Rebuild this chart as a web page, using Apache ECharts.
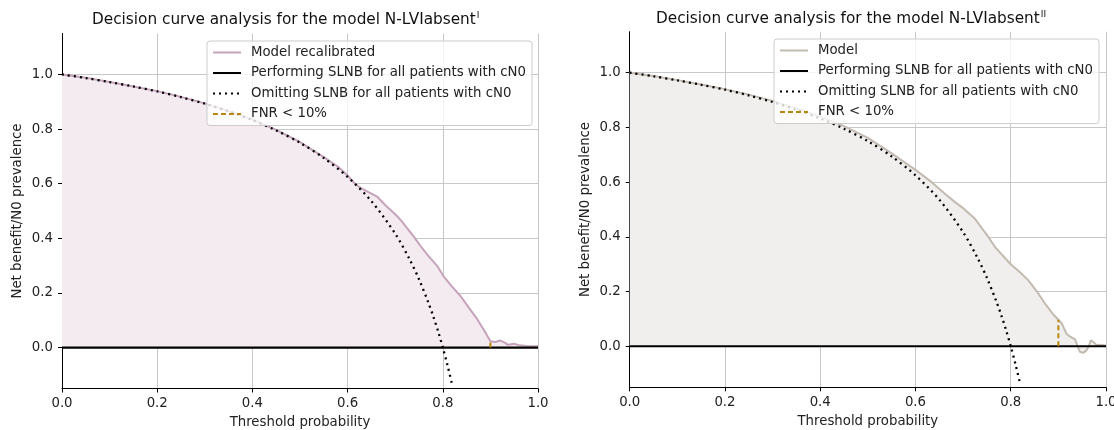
<!DOCTYPE html>
<html>
<head>
<meta charset="utf-8">
<script src="https://cdn.jsdelivr.net/npm/echarts@6/dist/echarts.min.js"></script>
<style>
  html, body { margin: 0; padding: 0; background: #fff; }
  #chart { width: 1114px; height: 430px; }
</style>
</head>
<body>
<div id="chart"></div>
<script>
// tick labels
var xTicks = [0, 0.2, 0.4, 0.6, 0.8, 1.0];
var yTicks = [0, 0.2, 0.4, 0.6, 0.8, 1.0];

// legend names
var legendLeft = ['Model recalibrated', 'Performing SLNB for all patients with cN0', 'Omitting SLNB for all patients with cN0', 'FNR < 10%'];
var legendRight = ['Model', 'Performing SLNB for all patients with cN0', 'Omitting SLNB for all patients with cN0', 'FNR < 10%'];

// omitting SLNB (dotted), same in both panels
var omitX = [0, 0.05, 0.1, 0.15, 0.2, 0.25, 0.3, 0.35, 0.4, 0.45, 0.5, 0.55, 0.6, 0.65, 0.7, 0.73, 0.75, 0.77, 0.78, 0.79, 0.8, 0.81, 0.82];
var omitY = [1.0, 0.987, 0.972, 0.956, 0.938, 0.917, 0.893, 0.865, 0.833, 0.795, 0.75, 0.694, 0.625, 0.536, 0.417, 0.324, 0.25, 0.163, 0.114, 0.06, 0.0, -0.066, -0.139];

// performing SLNB (black horizontal)
var allX = [0, 1];
var allY = [0, 0];

// left panel: model recalibrated
var leftX = [0, 0.05, 0.1, 0.15, 0.2, 0.25, 0.3, 0.35, 0.4, 0.45, 0.5, 0.55, 0.58, 0.6, 0.615, 0.627, 0.645, 0.662, 0.68, 0.7, 0.711, 0.739, 0.754, 0.77, 0.789, 0.802, 0.82, 0.838, 0.855, 0.873, 0.888, 0.9, 0.91, 0.92, 0.93, 0.937, 0.95, 0.96, 0.975, 1.0];
var leftY = [1.0, 0.988, 0.972, 0.956, 0.939, 0.918, 0.894, 0.866, 0.835, 0.797, 0.752, 0.697, 0.662, 0.63, 0.6, 0.585, 0.568, 0.553, 0.52, 0.488, 0.468, 0.406, 0.37, 0.335, 0.297, 0.26, 0.222, 0.187, 0.145, 0.102, 0.06, 0.023, 0.02, 0.026, 0.018, 0.01, 0.014, 0.008, 0.006, 0.005];

// right panel: model
var rightX = [0, 0.05, 0.1, 0.15, 0.2, 0.25, 0.3, 0.35, 0.4, 0.45, 0.5, 0.55, 0.6, 0.634, 0.66, 0.683, 0.7, 0.725, 0.74, 0.753, 0.767, 0.78, 0.8, 0.82, 0.837, 0.855, 0.872, 0.89, 0.9, 0.907, 0.917, 0.925, 0.935, 0.945, 0.952, 0.959, 0.964, 0.968, 0.974, 0.98, 0.985, 1.0];
var rightY = [1.0, 0.988, 0.973, 0.957, 0.94, 0.92, 0.897, 0.87, 0.84, 0.805, 0.762, 0.705, 0.645, 0.6, 0.56, 0.527, 0.505, 0.466, 0.43, 0.4, 0.363, 0.338, 0.3, 0.27, 0.241, 0.2, 0.156, 0.115, 0.097, 0.084, 0.046, 0.035, 0.025, -0.02, -0.024, -0.015, 0.0, 0.022, 0.015, 0.004, 0.006, 0.003];

// FNR < 10% cut-off
var fnrCut = 0.9;
var leftFnrTop = 0.023;
var rightFnrTop = 0.097;

function pairs(xs, ys) {
  return xs.map(function (x, i) { return [x, ys[i]]; });
}
function tail(xs, ys, from) {
  return pairs(xs, ys).filter(function (p) { return p[0] >= from; });
}

var font = 'DejaVu Sans';
var txt = '#222';

function xAxisFor(i) {
  return {
    type: 'value', gridIndex: i, min: 0, max: 1, interval: 0.2,
    name: 'Threshold probability', nameLocation: 'middle', nameGap: 28,
    nameTextStyle: { fontFamily: font, fontSize: 13.3, color: txt },
    axisLine: { onZero: false, lineStyle: { color: '#000', width: 1 } },
    axisTick: { length: 4, lineStyle: { color: '#000' } },
    axisLabel: { fontFamily: font, fontSize: 13.3, color: txt, margin: 9,
      formatter: function (v) { return v.toFixed(1); } },
    splitLine: { show: true, lineStyle: { color: '#c8c8c8', width: 1 } }
  };
}
function yAxisFor(i) {
  return {
    type: 'value', gridIndex: i, min: -0.15, max: 1.15, minInterval: 0.2, maxInterval: 0.2,
    name: 'Net benefit/N0 prevalence', nameLocation: 'middle', nameGap: 38,
    nameTextStyle: { fontFamily: font, fontSize: 13.3, color: txt },
    axisLine: { show: true, onZero: false, lineStyle: { color: '#000', width: 1 } },
    axisTick: { show: true, length: 4, customValues: yTicks, lineStyle: { color: '#000' } },
    axisLabel: { fontFamily: font, fontSize: 13.3, color: txt, margin: 9, customValues: yTicks,
      formatter: function (v) { return v.toFixed(1); } },
    splitLine: { show: true, lineStyle: { color: '#c8c8c8', width: 1 } }
  };
}

function panelSeries(i, name, xs, ys, lineColor, fillColor, tailColor, fnrTop) {
  return [
    { name: name + ' tail', type: 'line', xAxisIndex: i, yAxisIndex: i, data: tail(xs, ys, fnrCut),
      symbol: 'none', lineStyle: { width: 0 }, areaStyle: { color: tailColor, opacity: 1, origin: 'auto' },
      z: 1, silent: true },
    { name: name, type: 'line', xAxisIndex: i, yAxisIndex: i, data: pairs(xs, ys),
      symbol: 'none', color: lineColor, lineStyle: { color: lineColor, width: 2 },
      areaStyle: { color: fillColor, opacity: 1, origin: 'auto' }, z: 2 },
    { name: 'Performing SLNB for all patients with cN0', type: 'line', xAxisIndex: i, yAxisIndex: i,
      data: pairs(allX, allY), symbol: 'none', color: '#000', lineStyle: { color: '#000', width: 2.2 }, z: 4 },
    { name: 'Omitting SLNB for all patients with cN0', type: 'line', xAxisIndex: i, yAxisIndex: i,
      data: pairs(omitX, omitY), symbol: 'none', smooth: 0.3, color: '#000',
      lineStyle: { color: '#000', width: 2.3, type: [2, 4] }, z: 3 },
    { name: 'FNR < 10%', type: 'line', xAxisIndex: i, yAxisIndex: i,
      data: [[fnrCut, 0], [fnrCut, fnrTop]], symbol: 'none', color: '#b8860b',
      lineStyle: { color: '#b8860b', width: 2, type: [5, 3] }, z: 5 }
  ];
}

function legendFor(left, top, names) {
  return {
    data: names, orient: 'vertical', left: left, top: top,
    itemWidth: 28, itemHeight: 15, itemGap: 7.5,
    padding: [5, 6, 5, 5],
    backgroundColor: 'rgba(255,255,255,0.8)', borderColor: '#cccccc', borderWidth: 1, borderRadius: 3,
    itemStyle: { opacity: 0 },
    textStyle: { fontFamily: font, fontSize: 13.3, color: txt, padding: [0, 0, 0, 5] },
    selectedMode: false
  };
}

function titleFor(left, top, sup) {
  return {
    text: '{m|Decision curve analysis for the model N-LVIabsent}{s|' + sup + '}',
    left: left, top: top, padding: 0,
    textStyle: {
      fontFamily: font, fontSize: 15.3, fontWeight: 'normal', color: '#111',
      rich: {
        m: { fontFamily: font, fontSize: 15.3, fontWeight: 'normal', color: '#111', lineHeight: 18 },
        s: { fontFamily: font, fontSize: 9, fontWeight: 'normal', color: '#111', lineHeight: 9, verticalAlign: 'top', padding: [0, 0, 0, 1] }
      }
    }
  };
}

var chart = echarts.init(document.getElementById('chart'), null, { renderer: 'canvas' });
chart.setOption({
  animation: false,
  backgroundColor: '#fff',
  title: [titleFor(92, 11, 'I'), titleFor(656, 10, 'II')],
  legend: [legendFor(207, 41, legendLeft), legendFor(774, 39, legendRight)],
  grid: [
    { left: 62, right: 576, top: 33.5, bottom: 41.5, outerBoundsMode: 'none' },
    { left: 629.7, right: 8, top: 31.7, bottom: 42.7, outerBoundsMode: 'none' }
  ],
  xAxis: [xAxisFor(0), xAxisFor(1)],
  yAxis: [yAxisFor(0), yAxisFor(1)],
  series: [].concat(
    panelSeries(0, 'Model recalibrated', leftX, leftY, '#c6a3bb', '#f3ebf0', '#dccbd6', leftFnrTop),
    panelSeries(1, 'Model', rightX, rightY, '#c3bbb1', '#f0efee', '#cbc3bb', rightFnrTop)
  )
});
</script>
</body>
</html>
